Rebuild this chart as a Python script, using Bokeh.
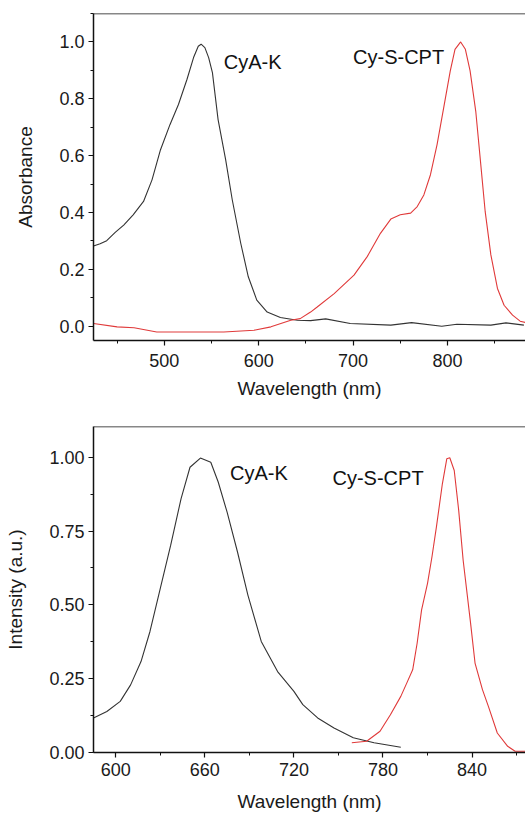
from bokeh.plotting import figure
from bokeh.layouts import column
from bokeh.models import Range1d, SingleIntervalTicker, NumeralTickFormatter, Span
from bokeh.core.properties import value
from bokeh.embed import file_html
from bokeh.resources import INLINE

# ---------------- data: absorbance (top panel) ----------------
abs_k_wl = [425, 432, 439, 448, 457, 467, 478, 487, 496, 506, 515, 524, 531, 536, 539,
            543, 547, 551, 557, 565, 572, 581, 589, 598, 609, 623, 641, 655, 671, 697,
            740, 762, 794, 810, 846, 862, 881]
abs_k_val = [0.282, 0.290, 0.301, 0.330, 0.356, 0.392, 0.439, 0.515, 0.621, 0.709, 0.780,
             0.868, 0.945, 0.985, 0.992, 0.980, 0.945, 0.892, 0.727, 0.586, 0.445, 0.292,
             0.174, 0.092, 0.050, 0.031, 0.021, 0.020, 0.026, 0.010, 0.004, 0.013, 0.000,
             0.007, 0.004, 0.012, 0.004]

abs_s_wl = [425, 450, 468, 492, 528, 563, 595, 613, 634, 644, 655, 662, 680, 701, 715,
            729, 740, 750, 761, 768, 775, 782, 789, 796, 803, 808, 814, 819, 824, 830,
            835, 840, 846, 853, 860, 869, 877, 883]
abs_s_val = [0.010, -0.002, -0.005, -0.020, -0.020, -0.020, -0.014, -0.002, 0.021, 0.027,
             0.050, 0.068, 0.115, 0.180, 0.245, 0.327, 0.377, 0.392, 0.398, 0.421, 0.462,
             0.533, 0.639, 0.768, 0.898, 0.974, 1.000, 0.974, 0.898, 0.756, 0.580, 0.403,
             0.251, 0.133, 0.074, 0.039, 0.018, 0.013]

# ---------------- data: emission (bottom panel) ----------------
em_k_wl = [585, 594, 603, 610, 617, 623, 630, 637, 644, 650, 657, 664, 669, 675, 682,
           689, 698, 709, 720, 726, 736, 747, 760, 774, 792]
em_k_val = [0.117, 0.139, 0.173, 0.229, 0.308, 0.409, 0.556, 0.702, 0.860, 0.966, 0.997,
            0.983, 0.916, 0.814, 0.679, 0.533, 0.376, 0.274, 0.207, 0.162, 0.117, 0.083,
            0.050, 0.033, 0.018]

em_s_wl = [759, 769, 778, 785, 792, 796, 800, 803, 806, 810, 813, 816, 820, 823, 825,
           828, 831, 834, 839, 842, 847, 851, 857, 864, 869, 876]
em_s_val = [0.033, 0.038, 0.072, 0.128, 0.190, 0.235, 0.280, 0.370, 0.483, 0.573, 0.663,
            0.764, 0.910, 0.995, 0.998, 0.955, 0.820, 0.651, 0.438, 0.303, 0.213, 0.156,
            0.066, 0.021, 0.004, 0.004]

label_k = "CyA-K"
label_s = "Cy-S-CPT"
xlabel = "Wavelength (nm)"
ylabel_top = "Absorbance"
ylabel_bot = "Intensity (a.u.)"

FONT = "Liberation Sans"
BLACK_CURVE = "#333333"
RED_CURVE = "#e03a3a"


def style(p, yfmt, xstand, xlabstand):
    p.outline_line_color = None
    p.grid.visible = False
    for ax in (p.xaxis[0], p.yaxis[0]):
        ax.axis_line_color = "#111111"
        ax.axis_line_width = 1.5
        ax.major_tick_line_color = "#111111"
        ax.major_tick_line_width = 1.2
        ax.minor_tick_line_color = "#111111"
        ax.minor_tick_line_width = 1.0
        ax.major_tick_in = 0
        ax.major_tick_out = 5
        ax.minor_tick_in = 0
        ax.minor_tick_out = 3
        ax.major_label_text_font = FONT
        ax.major_label_text_font_size = "18px"
        ax.major_label_text_color = "#1a1a1a"
        ax.axis_label_text_font = FONT
        ax.axis_label_text_font_size = "19px"
        ax.axis_label_text_font_style = "normal"
        ax.axis_label_text_color = "#1a1a1a"
    p.xaxis[0].major_label_standoff = xstand
    p.xaxis[0].axis_label_standoff = xlabstand
    p.yaxis[0].major_label_standoff = 4
    p.yaxis[0].axis_label_standoff = 20
    p.yaxis[0].formatter = NumeralTickFormatter(format=yfmt)


# ---------------- top panel ----------------
p1 = figure(width=525, height=410, output_backend="svg", toolbar_location=None,
            x_range=Range1d(425, 882.7), y_range=Range1d(-0.05, 1.1),
            min_border_left=93, min_border_right=0, min_border_top=13, min_border_bottom=70,
            x_axis_label=xlabel, y_axis_label=ylabel_top)
p1.xaxis[0].ticker = SingleIntervalTicker(interval=100, num_minor_ticks=2)
p1.yaxis[0].ticker = SingleIntervalTicker(interval=0.2, num_minor_ticks=2)
style(p1, "0.0", 8, 8)
p1.line(abs_k_wl, abs_k_val, line_color=BLACK_CURVE, line_width=1.1)
p1.line(abs_s_wl, abs_s_val, line_color=RED_CURVE, line_width=1.1)
p1.add_layout(Span(location=1.1, dimension="width", line_color="#111111", line_width=1.5))
p1.text(x=[563], y=[0.93], text=[label_k], text_font=value(FONT), text_font_size="20px",
        text_color="#111111", text_baseline="middle", text_align="left")
p1.text(x=[700], y=[0.946], text=[label_s], text_font=value(FONT), text_font_size="20px",
        text_color="#111111", text_baseline="middle", text_align="left")

# ---------------- bottom panel ----------------
p2 = figure(width=525, height=404, output_backend="svg", toolbar_location=None,
            x_range=Range1d(585, 876), y_range=Range1d(0, 1.104),
            min_border_left=93, min_border_right=0, min_border_top=16, min_border_bottom=61,
            x_axis_label=xlabel, y_axis_label=ylabel_bot)
p2.xaxis[0].ticker = SingleIntervalTicker(interval=60, num_minor_ticks=2)
p2.yaxis[0].ticker = SingleIntervalTicker(interval=0.25, num_minor_ticks=2)
style(p2, "0.00", 5, 12)
p2.line(em_k_wl, em_k_val, line_color=BLACK_CURVE, line_width=1.1)
p2.line(em_s_wl, em_s_val, line_color=RED_CURVE, line_width=1.1)
p2.add_layout(Span(location=1.104, dimension="width", line_color="#111111", line_width=1.5))
p2.text(x=[677], y=[0.945], text=[label_k], text_font=value(FONT), text_font_size="20px",
        text_color="#111111", text_baseline="middle", text_align="left")
p2.text(x=[746], y=[0.928], text=[label_s], text_font=value(FONT), text_font_size="20px",
        text_color="#111111", text_baseline="middle", text_align="left")

layout = column(p1, p2, spacing=0)
open("out.html", "w").write(file_html(layout, INLINE))
